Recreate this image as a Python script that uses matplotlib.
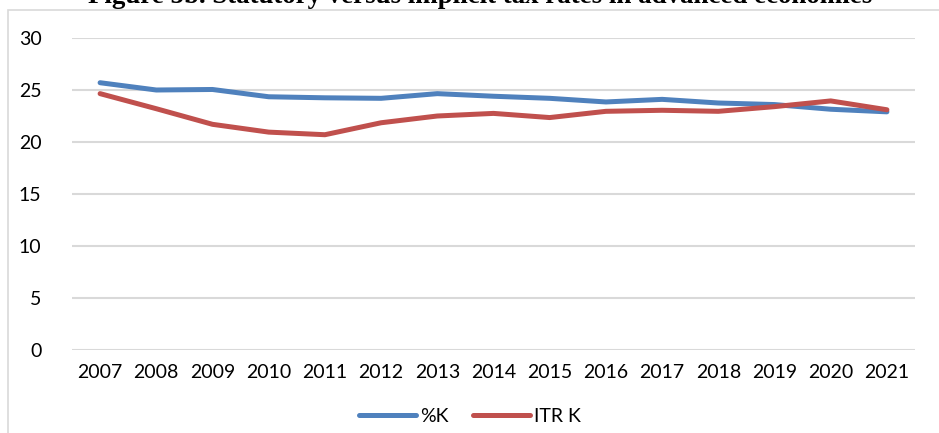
import matplotlib
matplotlib.use("Agg")
import matplotlib.pyplot as plt
from matplotlib.patches import Rectangle

years = [str(y) for y in range(2007, 2022)]
pct_k = [25.7, 25.0, 25.05, 24.35, 24.25, 24.2, 24.65, 24.4, 24.2, 23.85, 24.1, 23.75, 23.6, 23.15, 22.9]
itr_k = [24.65, 23.2, 21.7, 20.95, 20.7, 21.85, 22.5, 22.75, 22.35, 22.95, 23.05, 22.95, 23.4, 23.95, 23.1]

plt.rcParams['font.family'] = ['Lato', 'DejaVu Sans']

fig = plt.figure(figsize=(9.39, 4.33), dpi=100)
ax = fig.add_axes([72 / 939, 1 - 350 / 433, 843 / 939, 312 / 433])

# chart frame (light grey border, partly outside the image)
fig.patches.append(Rectangle((8 / 939, -0.2), 1.2, 1 - 10 / 433 + 0.2, transform=fig.transFigure,
                             fill=False, edgecolor='#D9D9D9', linewidth=1.2))

x = range(len(years))
ax.plot(x, pct_k, color='#4F81BD', linewidth=3.6, solid_capstyle='round', label='%K')
ax.plot(x, itr_k, color='#C0504D', linewidth=3.6, solid_capstyle='round', label='ITR K')

ax.set_xlim(-0.5, len(years) - 0.5)
ax.set_ylim(0, 30)
ax.set_yticks(range(0, 31, 5))
ax.set_xticks(list(x))
ax.set_xticklabels(years)
ax.grid(axis='y', color='#D9D9D9', linewidth=1.5)
ax.set_axisbelow(True)
for s in ax.spines.values():
    s.set_visible(False)
ax.tick_params(axis='both', length=0, labelsize=14, colors='black')
ax.tick_params(axis='y', pad=22)
ax.tick_params(axis='x', pad=10)

leg = fig.legend(loc='center', bbox_to_anchor=(470 / 939, 1 - 416 / 433), ncol=2, frameon=False,
                 fontsize=14, handlelength=2.9, handletextpad=0.2, columnspacing=1.3)

fig.text(480 / 939, 1 - 3 / 433, 'Figure 5b. Statutory versus implicit tax rates in advanced economies',
         ha='center', va='baseline', fontsize=19.4, fontweight='bold', family='Liberation Serif')

fig.savefig('out.png', dpi=100)
